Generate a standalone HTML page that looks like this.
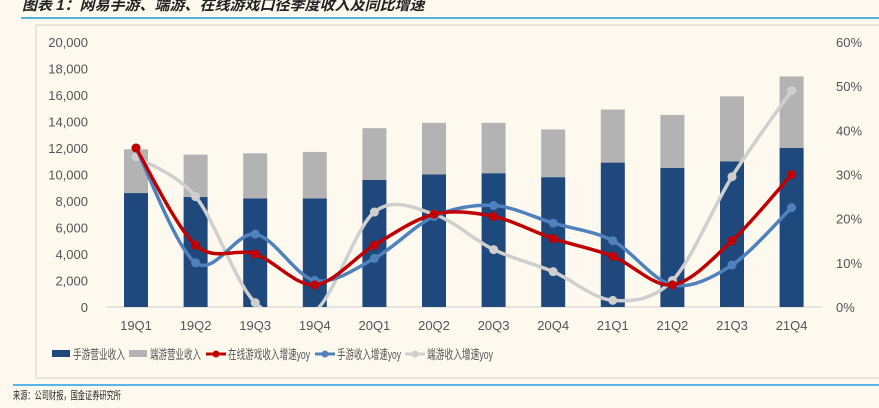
<!DOCTYPE html>
<html><head><meta charset="utf-8"><style>
body{margin:0;width:879px;height:403px;background:#fdf9ee;overflow:hidden;font-family:"Liberation Sans","Noto Sans CJK SC",sans-serif;}
</style></head><body>
<svg id="c" width="879" height="403" xmlns="http://www.w3.org/2000/svg">
<text x="22" y="10" font-size="15" font-style="italic" font-weight="bold" fill="#222" font-family="'Liberation Sans','Noto Sans CJK SC',sans-serif">图表 1：网易手游、端游、在线游戏口径季度收入及同比增速</text>
<line x1="21" y1="18" x2="879" y2="18" stroke="#1a9ad6" stroke-width="1.5"/>
<rect x="36" y="25" width="860" height="353" fill="#fdf9ee" stroke="#e2ded4" stroke-width="1.5"/>
<line x1="13" y1="385" x2="879" y2="385" stroke="#5ab4e5" stroke-width="2"/>
<text x="13" y="399" font-size="11" fill="#222" textLength="108" lengthAdjust="spacingAndGlyphs">来源：公司财报，国金证券研究所</text>
<g id="g"></g>
</svg>
<script>
const categories=["19Q1","19Q2","19Q3","19Q4","20Q1","20Q2","20Q3","20Q4","21Q1","21Q2","21Q3","21Q4"];
const mobileRev=[8600,8300,8200,8200,9600,10000,10100,9800,10900,10500,11000,12000];
const pcRev=[3300,3200,3400,3500,3900,3900,3800,3600,4000,4000,4900,5400];
const onlineYoy=[36,14,12,5,14,21,20.5,15.5,11.5,5,15,30];
const mobileYoy=[36,10,16.5,6,11,20.5,23,19,15,5,9.5,22.5];
const pcYoy=[34,25,1,-1,21.5,21,13,8,1.5,6,29.5,49];
const leftTicks=[0,2000,4000,6000,8000,10000,12000,14000,16000,18000,20000];
const rightTicks=[0,10,20,30,40,50,60];
const NS="http://www.w3.org/2000/svg",g=document.getElementById('g');
const y0=307,y1=42;
const yL=v=>y0-(v/20000)*(y0-y1);
const yR=v=>y0-(v/60)*(y0-y1);
const xC=i=>136+i*59.6;
function el(t,a,p){const e=document.createElementNS(NS,t);for(const k in a)e.setAttribute(k,a[k]);(p||g).appendChild(e);return e;}
leftTicks.forEach(v=>{const t=el('text',{x:88,y:yL(v)+5,'text-anchor':'end','font-size':13,fill:'#555'});t.textContent=v.toLocaleString('en-US');

});
rightTicks.forEach(v=>{const t=el('text',{x:836,y:yR(v)+5,'font-size':13,fill:'#555'});t.textContent=v+'%';

});
const ax=el('line',{x1:106,y1:y0,x2:822,y2:y0,stroke:'#d0d0d0'});


categories.forEach((c,i)=>{
 const x=xC(i),w=24;
 const b=el('rect',{x:x-w/2,y:yL(mobileRev[i]),width:w,height:y0-yL(mobileRev[i]),fill:'#1f497d'});
 
 
 const tot=mobileRev[i]+pcRev[i];
 const p=el('rect',{x:x-w/2,y:yL(tot),width:w,height:yL(mobileRev[i])-yL(tot),fill:'#b3b3b3'});
 
 
 const t=el('text',{x:x,y:330,'text-anchor':'middle','font-size':13,fill:'#555'});t.textContent=c;
 
 
});
function smooth(pts){let d='M'+pts[0][0]+','+pts[0][1];for(let i=0;i<pts.length-1;i++){const p0=pts[i-1]||pts[i],p1=pts[i],p2=pts[i+1],p3=pts[i+2]||p2;const t=0.16;
d+=' C'+(p1[0]+(p2[0]-p0[0])*t)+','+(p1[1]+(p2[1]-p0[1])*t)+' '+(p2[0]-(p3[0]-p1[0])*t)+','+(p2[1]-(p3[1]-p1[1])*t)+' '+p2[0]+','+p2[1];}return d;}
const cp=el('clipPath',{id:'cl'});el('rect',{x:100,y:30,width:730,height:277},cp);
[[pcYoy,'#cfcfcf','pc-yoy'],[mobileYoy,'#4f81bd','mobile-yoy'],[onlineYoy,'#c00000','online-yoy']].forEach(([arr,col,nm])=>{
 const pts=arr.map((v,i)=>[xC(i),yR(v)]);
 const l=el('path',{d:smooth(pts),fill:'none',stroke:col,'stroke-width':3.5,'clip-path':'url(#cl)'});
 
 
 pts.forEach(p=>{if(p[1]>y0)return;const c=el('circle',{cx:p[0],cy:p[1],r:4.5,fill:col});
 
 });
});
const leg=[['rect','#1f497d','手游营业收入',52,52],['rect','#b3b3b3','端游营业收入',129,51],['line','#c00000','在线游戏收入增速yoy',206,82],['line','#4f81bd','手游收入增速yoy',315,64],['line','#cfcfcf','端游收入增速yoy',405,66]];
leg.forEach(([k,col,txt,x,tw])=>{
 const gg=el('g',{});
 
 
 if(k==='rect')el('rect',{x:x,y:350,width:18,height:7,fill:col},gg);
 else{el('line',{x1:x,y1:354,x2:x+20,y2:354,stroke:col,'stroke-width':3},gg);el('circle',{cx:x+10,cy:354,r:3.5,fill:col},gg);}
 const t=el('text',{x:x+(k==='rect'?21:22),y:359,'font-size':13,fill:'#555',textLength:tw,lengthAdjust:'spacingAndGlyphs'},gg);t.textContent=txt;
});
</script>
</body></html>
